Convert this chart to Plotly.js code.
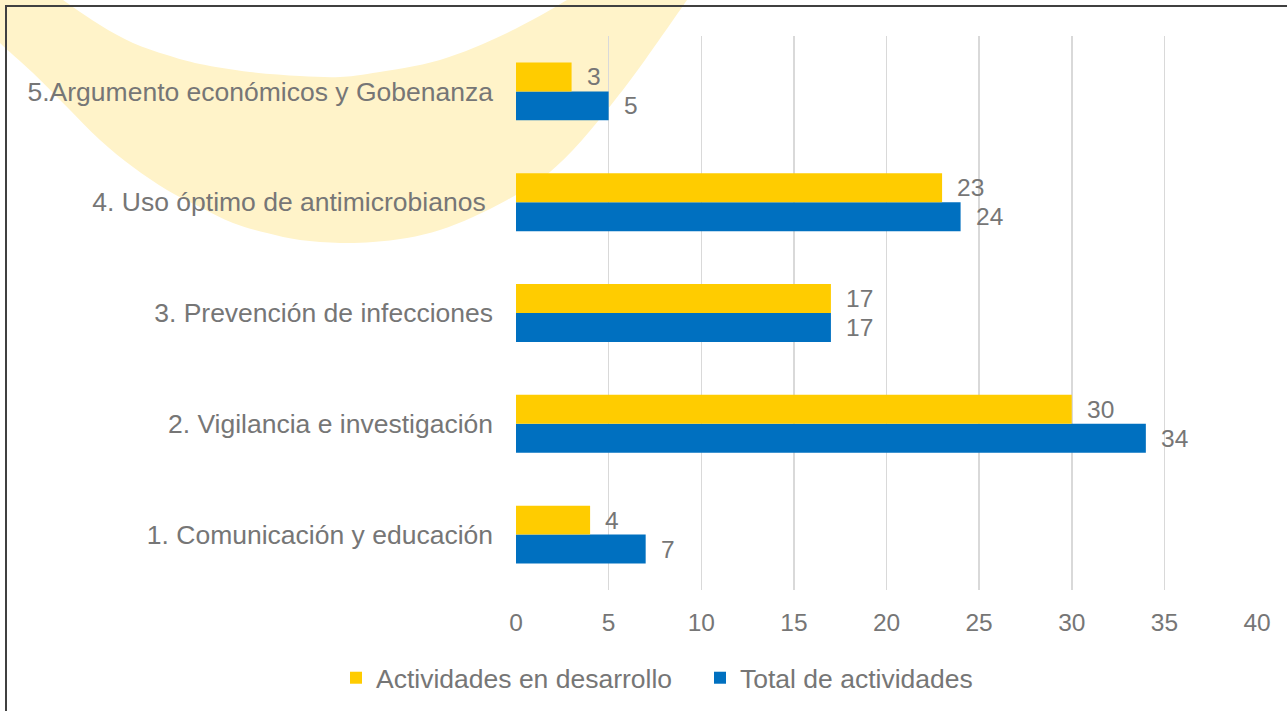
<!DOCTYPE html>
<html>
<head>
<meta charset="utf-8">
<script src="https://cdn.plot.ly/plotly-3.0.1.min.js"></script>
<style>html,body{margin:0;padding:0;background:#fff;}#chart{width:1287px;height:711px;}</style>
</head>
<body>
<div id="chart"></div>
<script>
const categories = [
  "1. Comunicación y educación",
  "2. Vigilancia e investigación",
  "3. Prevención de infecciones",
  "4. Uso óptimo de antimicrobianos\u00a0",
  "5.Argumento económicos y Gobenanza"
];
const enDesarrollo = [4, 30, 17, 23, 3];
const totalActividades = [7, 34, 17, 24, 5];
const seriesNames = ["Actividades en desarrollo", "Total de actividades"];
const xTicks = [0, 5, 10, 15, 20, 25, 30, 35, 40];

const GRAY = "#767676";
const YELLOW = "#FFCC00";
const BLUE = "#0070C0";

// plot-area pixel frame
const L = 516, R = 1257, T = 36, B = 590, W = 1287, H = 711;
const px2x = p => (p - L) / (R - L);
const py2y = p => (B - p) / (B - T);

function smoothPath(pts) {
  let d = "";
  for (let i = 0; i < pts.length - 1; i++) {
    const p0 = pts[Math.max(i - 1, 0)], p1 = pts[i], p2 = pts[i + 1], p3 = pts[Math.min(i + 2, pts.length - 1)];
    const c1 = [p1[0] + (p2[0] - p0[0]) / 6, p1[1] + (p2[1] - p0[1]) / 6];
    const c2 = [p2[0] - (p3[0] - p1[0]) / 6, p2[1] - (p3[1] - p1[1]) / 6];
    d += " C" + [c1, c2, p2].map(q => px2x(q[0]).toFixed(4) + "," + py2y(q[1]).toFixed(4)).join(" ");
  }
  return d;
}
// watermark crescent (decoration), pixel outline
const outer = [[-6,34],[0,43],[33,73],[67,107],[100,140],[133,167],[167,190],[200,207],[233,223],[267,233],[300,240],[340,243],[373,242],[407,238],[440,230],[473,217],[507,200],[540,180],[573,150],[607,110],[640,67],[687,0],[691,-6]];
const inner = [[571,-6],[567,0],[507,33],[440,60],[373,73],[340,77],[300,76],[250,72],[200,64],[167,55],[133,43],[100,25],[63,0],[58,-6]];
const pt = q => px2x(q[0]).toFixed(4) + "," + py2y(q[1]).toFixed(4);
const crescent = "M" + pt(outer[0]) + smoothPath(outer) + " L" + pt(inner[0]) + smoothPath(inner) + " L" + pt([-6,-6]) + " Z";

const traces = [
  {type: "bar", orientation: "h", name: seriesNames[1], y: categories, x: totalActividades,
   marker: {color: BLUE}, hoverinfo: "x"},
  {type: "bar", orientation: "h", name: seriesNames[0], y: categories, x: enDesarrollo,
   marker: {color: YELLOW}, hoverinfo: "x", legendwidth: 319}
];

const annotations = [];
categories.forEach((c, i) => {
  annotations.push({x: enDesarrollo[i], y: c, xref: "x", yref: "y", text: String(enDesarrollo[i]),
    showarrow: false, xanchor: "left", yanchor: "middle", xshift: 13, yshift: 14.5,
    font: {family: "Liberation Sans, Arial, sans-serif", size: 24.5, color: GRAY}});
  annotations.push({x: totalActividades[i], y: c, xref: "x", yref: "y", text: String(totalActividades[i]),
    showarrow: false, xanchor: "left", yanchor: "middle", xshift: 13, yshift: -14.5,
    font: {family: "Liberation Sans, Arial, sans-serif", size: 24.5, color: GRAY}});
});

const layout = {
  width: W, height: H,
  margin: {l: L, r: W - R, t: T, b: H - B, pad: 0},
  paper_bgcolor: "#ffffff",
  plot_bgcolor: "rgba(0,0,0,0)",
  barmode: "group",
  bargap: 0.477,
  bargroupgap: 0,
  font: {family: "Liberation Sans, Arial, sans-serif", color: GRAY},
  xaxis: {range: [0, 40], tickvals: xTicks, ticktext: xTicks.map(String),
    showgrid: true, gridcolor: "#D9D9D9", gridwidth: 1.5, zeroline: false, showline: false,
    ticks: "", ticklabelstandoff: 15, tickfont: {size: 24.5, color: GRAY}, fixedrange: true},
  yaxis: {type: "category", categoryorder: "array", categoryarray: categories,
    showgrid: false, zeroline: false, showline: false, ticks: "", ticklabelstandoff: 22,
    tickfont: {size: 26.5, color: GRAY}, fixedrange: true},
  showlegend: true,
  legend: {orientation: "h", traceorder: "reversed", xref: "container", yref: "container",
    x: 336 / W, xanchor: "left", y: 1 - 678 / H, yanchor: "middle",
    font: {size: 26.5, color: GRAY}, bgcolor: "rgba(0,0,0,0)", itemclick: false, itemdoubleclick: false},
  annotations: annotations,
  shapes: [
    {type: "path", xref: "paper", yref: "paper", path: crescent, fillcolor: "#FFF3C9",
     line: {width: 0}, layer: "below"},
    {type: "rect", xref: "paper", yref: "paper", x0: px2x(6), x1: px2x(1300), y0: py2y(6), y1: py2y(725),
     line: {color: "#404040", width: 2}, fillcolor: "rgba(0,0,0,0)", layer: "above"}
  ]
};

Plotly.newPlot("chart", traces, layout, {displayModeBar: false, staticPlot: true});
</script>
</body>
</html>
